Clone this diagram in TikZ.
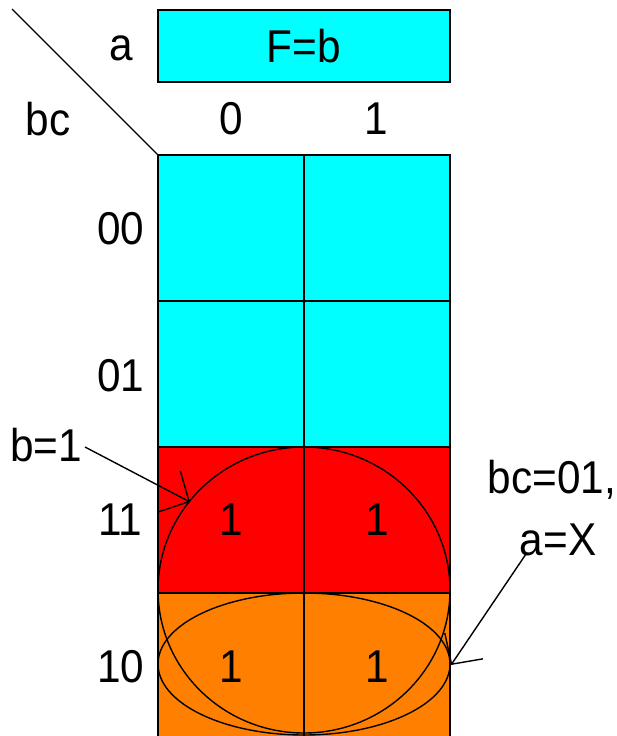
\documentclass[tikz,border=0pt]{standalone}
\usepackage{fontspec}
\setmainfont[FakeStretch=0.92]{Liberation Sans}
\usetikzlibrary{arrows.meta}
\definecolor{kcyan}{RGB}{0,255,255}
\definecolor{kred}{RGB}{255,0,0}
\definecolor{korange}{RGB}{255,128,0}
\begin{document}
\begin{tikzpicture}[x=1pt,y=-1pt,
  lbl/.style={inner sep=0pt, font=\fontsize{46}{55}\selectfont},
  gridline/.style={line width=2pt},
  loopline/.style={line width=1.4pt},
  callout/.style={line width=1.4pt, -{Straight Barb[length=22pt,width=46pt]}}]
\useasboundingbox (0,0) rectangle (616,736);
\clip (0,0) rectangle (616,736);
% header
\node[draw, fill=kcyan, line width=2pt, minimum width=292pt, minimum height=72pt, inner sep=0pt] (hdr) at (304,46) {};
\node[lbl] (F) at (304,46) {F=b};
% diagonal
\coordinate (d0) at (12,9);
\coordinate (d1) at (158,155);
\draw[line width=1.4pt] (d0) -- (d1);
\node[lbl] (na) at (121,48) {a};
\node[lbl] (nbc) at (48,119) {bc};
\node[lbl] (c0) at (231,119) {0};
\node[lbl] (c1) at (376,119) {1};
% cells
\fill[kcyan] (158,155) rectangle (450,447);
\fill[kred] (158,447) rectangle (450,593);
\fill[korange] (158,593) rectangle (450,739);
\draw[gridline] (158,155) rectangle (450,739);
\draw[gridline] (304,155) -- (304,739);
\draw[gridline] (158,301) -- (450,301);
\draw[gridline] (158,447) -- (450,447);
\draw[gridline] (158,593) -- (450,593);
% row labels
\node[lbl] (r00) at (121,229) {00};
\node[lbl] (r01) at (121,376) {01};
\node[lbl] (r11) at (120,520) {11};
\node[lbl] (r10) at (121,667) {10};
% loops
\draw[loopline] (304,590) ellipse [x radius=146pt, y radius=143pt];
\draw[loopline] (304,664) ellipse [x radius=146pt, y radius=71pt];
% ones
\node[lbl] (v11a) at (231,520) {1};
\node[lbl] (v11b) at (377,520) {1};
\node[lbl] (v10a) at (231,667) {1};
\node[lbl] (v10b) at (377,667) {1};
% callouts
\node[lbl] (tb1) at (46,445) {b=1};
\coordinate (b1s) at (85,447);
\coordinate (b1t) at (190,502);
\draw[callout] (b1s) -- (b1t);
\node[lbl] (tbc) at (552,480) {bc=01,};
\node[lbl] (tax) at (558,540) {a=X};
\coordinate (axs) at (526,554);
\coordinate (axt) at (451,665);
\draw[callout] (axs) -- (axt);
\end{tikzpicture}
\end{document}
